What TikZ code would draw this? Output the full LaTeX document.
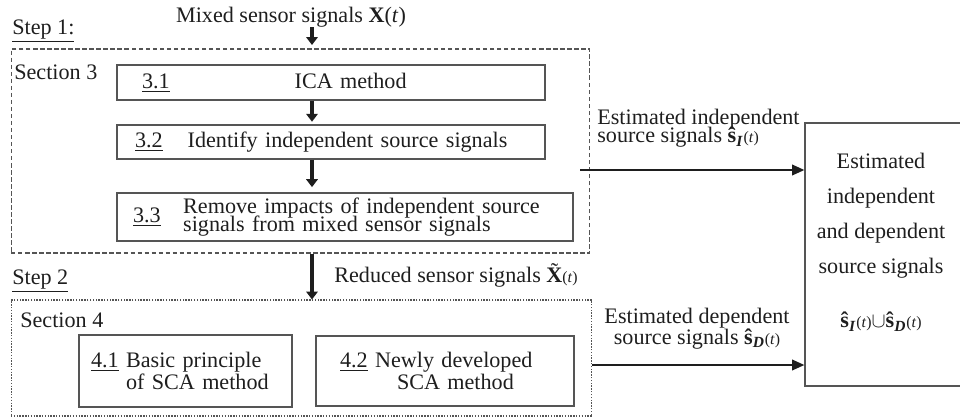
\documentclass[tikz,border=0pt]{standalone}
\usepackage{fontspec}
\setmainfont{Liberation Serif}
\usetikzlibrary{positioning, arrows.meta}
\definecolor{lineGray}{RGB}{85,85,85}
\definecolor{inkBlack}{RGB}{30,30,30}
\newcommand{\tightlines}{\fontsize{12.6}{10.5}\selectfont\lineskiplimit=-10pt}
\newcommand{\looselines}{\fontsize{12.6}{12}\selectfont\lineskiplimit=-10pt}
\newcommand{\tildeX}{\ooalign{\textbf{X}\cr\hidewidth\raisebox{0.16em}{\char"02DC}\hidewidth\cr}}

\begin{document}
\begin{tikzpicture}[
    x=0.02cm, y=-0.02cm,
    font=\fontsize{12.6}{14.7}\selectfont,
    stepbox/.style={rectangle, draw=lineGray, line width=0.6pt,
                    dash pattern=on 2.5pt off 1.5pt, inner sep=0pt},
    stepboxdot/.style={stepbox, dash pattern=on 0.8pt off 0.8pt},
    secbox/.style={rectangle, draw=lineGray, line width=0.7pt,
                   inner xsep=0pt, inner ysep=0pt, align=left, text=inkBlack},
    varrow/.style={-{Triangle[length=4.5pt,width=6.5pt]}, line width=2pt, inkBlack},
    harrow/.style={-{Triangle[length=7pt,width=6pt]}, line width=1.1pt, inkBlack},
    lbl/.style={inner sep=0pt, text=inkBlack},
  ]
    \useasboundingbox (0,0) rectangle (960,419);
    \coordinate (mid) at (312,0);

    % Step 1
    \node[lbl] (mixed) at (291,17) {Mixed sensor signals \textbf{X}(\textit{t})};
    \node[lbl, anchor=west] (stepa) at (12,31) {\underline{Step 1:}};
    \node[stepbox, minimum width=11.58cm, minimum height=4.08cm] (sone) at (300.5,151) {};
    \node[lbl, anchor=west] (secthree) at (14,72) {Section 3};

    \node[secbox, text width=8.56cm, minimum height=0.70cm] (ica) at (331,82.5)
         {\hspace*{0.5cm}\underline{3.1}\hspace{2.5cm}ICA method};
    \node[secbox, text width=8.56cm, minimum height=0.68cm] (ident) at (331,142)
         {\hspace*{0.36cm}\underline{3.2}\hspace{0.5cm}Identify independent source signals};
    \node[secbox, text width=9.12cm, minimum height=0.96cm] (remove) at (345,217)
         {\hspace*{0.32cm}\underline{3.3}\hspace{0.45cm}\parbox[c]{7.7cm}{\tightlines
          Remove impacts of independent source\\ signals from mixed sensor signals}};

    % Step 2
    \node[lbl, anchor=west] (stepb) at (12,281) {\underline{Step 2}};
    \node[lbl, anchor=west] (reduced) at (334,277)
         {Reduced sensor signals \tildeX{\small(\textit{t})}};
    \node[stepboxdot, minimum width=11.62cm, minimum height=2.32cm] (stwo) at (301.5,358) {};
    \node[lbl, anchor=west] (secfour) at (20,320) {Section 4};

    \node[secbox, text width=4.26cm, minimum height=1.44cm,
          font=\fontsize{12.6}{13}\selectfont] (basic) at (185.5,371)
         {\hspace*{0.24cm}\underline{4.1} Basic principle\\\hspace*{0.94cm}of SCA method};
    \node[secbox, text width=5.16cm, minimum height=1.40cm,
          font=\fontsize{12.6}{13}\selectfont] (newly) at (445,371)
         {\hspace*{0.48cm}\underline{4.2} Newly developed\\\hspace*{1.62cm}SCA method};

    % Result (runs past the right edge)
    \node[secbox, minimum width=3.4cm, minimum height=5.26cm] (result) at (890,254.5) {};
    \node[lbl, align=center, font=\fontsize{12.6}{20}\selectfont] (resulttext) at (881,242)
         {Estimated\\independent\\and dependent\\source signals\\[11pt]
          \textbf{ŝ}\textsubscript{\textbf{\textit{I}}}{\small(\textit{t})}$\cup$\textbf{ŝ}\textsubscript{\textbf{\textit{D}}}{\small(\textit{t})}};

    \node[lbl, align=left, anchor=south west, font=\tightlines] (indlabel) at (597,148)
         {Estimated independent\\source signals \textbf{ŝ}\textsubscript{\textbf{\textit{I}}}{\small(\textit{t})}};
    \node[lbl, align=center, font=\looselines] (deplabel) at (697,329)
         {Estimated dependent\\source signals \textbf{ŝ}\textsubscript{\textbf{\textit{D}}}{\small(\textit{t})}};

    \coordinate (indstart) at (580,170);
    \coordinate (depstart) at (592,365);

    \draw[varrow, shorten >=2pt] (mixed.south -| mid) -- (sone.north -| mid);
    \draw[varrow, shorten >=1.5pt] (ica.south -| mid) -- (ident.north -| mid);
    \draw[varrow, shorten >=3pt] (ident.south -| mid) -- (remove.north -| mid);
    \draw[varrow] (sone.south -| mid) -- (stwo.north -| mid);
    \draw[harrow] (indstart) -- (indstart -| result.west);
    \draw[harrow] (depstart) -- (depstart -| result.west);
  \end{tikzpicture}
\end{document}
